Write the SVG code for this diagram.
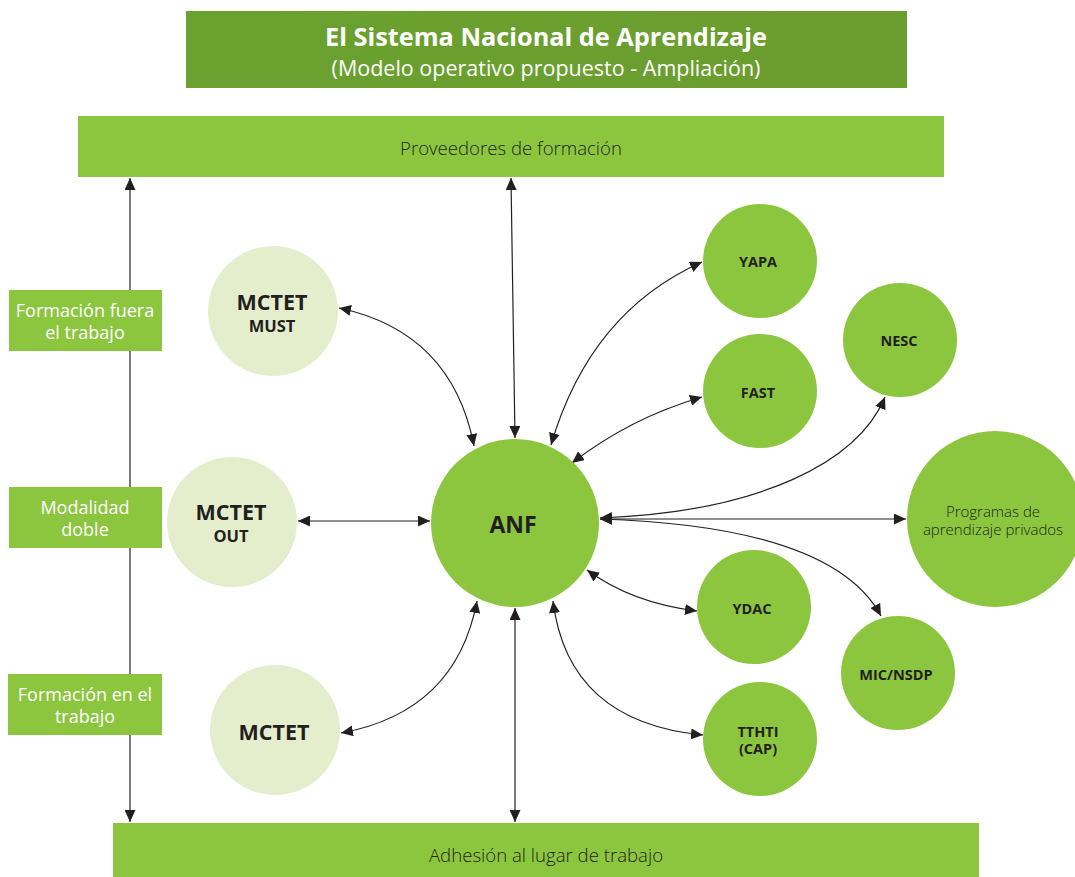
<svg xmlns="http://www.w3.org/2000/svg" width="1075" height="877" viewBox="0 0 1075 877">
<defs>
<style>
text{font-family:"Open Sans","Noto Sans","DejaVu Sans",sans-serif;text-anchor:middle;}
.band{fill:#8cc63f;}
.light{fill:#e4eecd;}
.green{fill:#8cc63f;}
.lbl{fill:#ffffff;font-size:18px;}
.bandt{fill:#231f20;font-size:18.6px;font-weight:300;}
.big{fill:#231f20;font-size:21.5px;font-weight:700;}
.sub{fill:#231f20;font-size:16.5px;font-weight:700;}
.sm{fill:#231f20;font-size:14.5px;font-weight:700;}
.thin{fill:#231f20;font-size:15px;font-weight:300;}
.c{fill:none;stroke:#231f20;stroke-width:1.2;marker-start:url(#ah);marker-end:url(#ah);}
</style>
<marker id="ah" viewBox="0 0 10 10" refX="10" refY="5" markerWidth="12" markerHeight="11" markerUnits="userSpaceOnUse" orient="auto-start-reverse" preserveAspectRatio="none">
<path d="M0,0 L10,5 L0,10 z" fill="#231f20"/>
</marker>
<linearGradient id="tg" x1="0" y1="0" x2="1" y2="0">
<stop offset="0" stop-color="#6aa12f"/>
<stop offset="1" stop-color="#6b9d2e"/>
</linearGradient>
</defs>
<g id="title">
<rect x="186" y="11" width="721" height="77" fill="url(#tg)"/>
<text x="546" y="46" style="fill:#fff;font-size:25.3px;font-weight:700;">El Sistema Nacional de Aprendizaje</text>
<text x="546" y="76" style="fill:#fff;font-size:21.5px;">(Modelo operativo propuesto - Ampliación)</text>
</g>
<g id="proveedores">
<rect class="band" x="78" y="116" width="866" height="61"/>
<text class="bandt" x="511" y="155">Proveedores de formación</text>
</g>
<g id="adhesion">
<rect class="band" x="113" y="823" width="866" height="54"/>
<text class="bandt" x="546" y="862">Adhesión al lugar de trabajo</text>
</g>
<g id="connectors">
<line class="c" x1="130" y1="178" x2="130" y2="822"/>
<line class="c" x1="511" y1="178" x2="515" y2="438"/>
<line class="c" x1="515" y1="608" x2="515" y2="822"/>
<path class="c" d="M339,308 Q452,332 474,446"/>
<line class="c" x1="298" y1="521" x2="430" y2="521"/>
<path class="c" d="M341,733 Q456,712 477,601"/>
<path class="c" d="M551,445 Q590,312 702,262"/>
<path class="c" d="M572,463 Q630,418 702,397"/>
<path class="c" d="M600,518 C760,512 858,462 885,397"/>
<line class="c" x1="600" y1="519" x2="906" y2="519"/>
<path class="c" d="M600,519 C760,524 850,558 881,616"/>
<path class="c" d="M587,570 Q632,603 697,611"/>
<path class="c" d="M553,601 Q568,722 703,735"/>
</g>
<g id="lbl-fuera">
<rect class="band" x="9" y="290" width="153" height="61"/>
<text class="lbl" x="85" y="317">Formación fuera</text>
<text class="lbl" x="85" y="339">el trabajo</text>
</g>
<g id="lbl-doble">
<rect class="band" x="9" y="487" width="153" height="61"/>
<text class="lbl" x="85" y="514">Modalidad</text>
<text class="lbl" x="85" y="536">doble</text>
</g>
<g id="lbl-en">
<rect class="band" x="8" y="674" width="154" height="61"/>
<text class="lbl" x="85" y="701">Formación en el</text>
<text class="lbl" x="85" y="723">trabajo</text>
</g>
<g id="mctet-must">
<circle class="light" cx="273" cy="311" r="65"/>
<text class="big" x="272" y="310">MCTET</text>
<text class="sub" x="272" y="332">MUST</text>
</g>
<g id="mctet-out">
<circle class="light" cx="232" cy="522" r="65"/>
<text class="big" x="231" y="520">MCTET</text>
<text class="sub" x="231" y="542">OUT</text>
</g>
<g id="mctet">
<circle class="light" cx="275" cy="730" r="65"/>
<text class="big" x="274" y="740">MCTET</text>
</g>
<g id="anf">
<circle class="green" cx="515" cy="523" r="84"/>
<text class="big" x="513" y="533" style="font-size:23px">ANF</text>
</g>
<g id="yapa">
<circle class="green" cx="760" cy="261" r="57"/>
<text class="sm" x="758" y="267">YAPA</text>
</g>
<g id="fast">
<circle class="green" cx="760" cy="391" r="57"/>
<text class="sm" x="758" y="398">FAST</text>
</g>
<g id="nesc">
<circle class="green" cx="900" cy="340" r="57"/>
<text class="sm" x="899" y="346">NESC</text>
</g>
<g id="programas">
<circle class="green" cx="995" cy="519" r="88"/>
<text class="thin" x="993" y="517">Programas de</text>
<text class="thin" x="993" y="535">aprendizaje privados</text>
</g>
<g id="ydac">
<circle class="green" cx="754" cy="607" r="57"/>
<text class="sm" x="752" y="614">YDAC</text>
</g>
<g id="micnsdp">
<circle class="green" cx="898" cy="673" r="57"/>
<text class="sm" x="896" y="680">MIC/NSDP</text>
</g>
<g id="tthti">
<circle class="green" cx="760" cy="739" r="57"/>
<text class="sm" x="758" y="737">TTHTI</text>
<text class="sm" x="758" y="754">(CAP)</text>
</g>
</svg>
